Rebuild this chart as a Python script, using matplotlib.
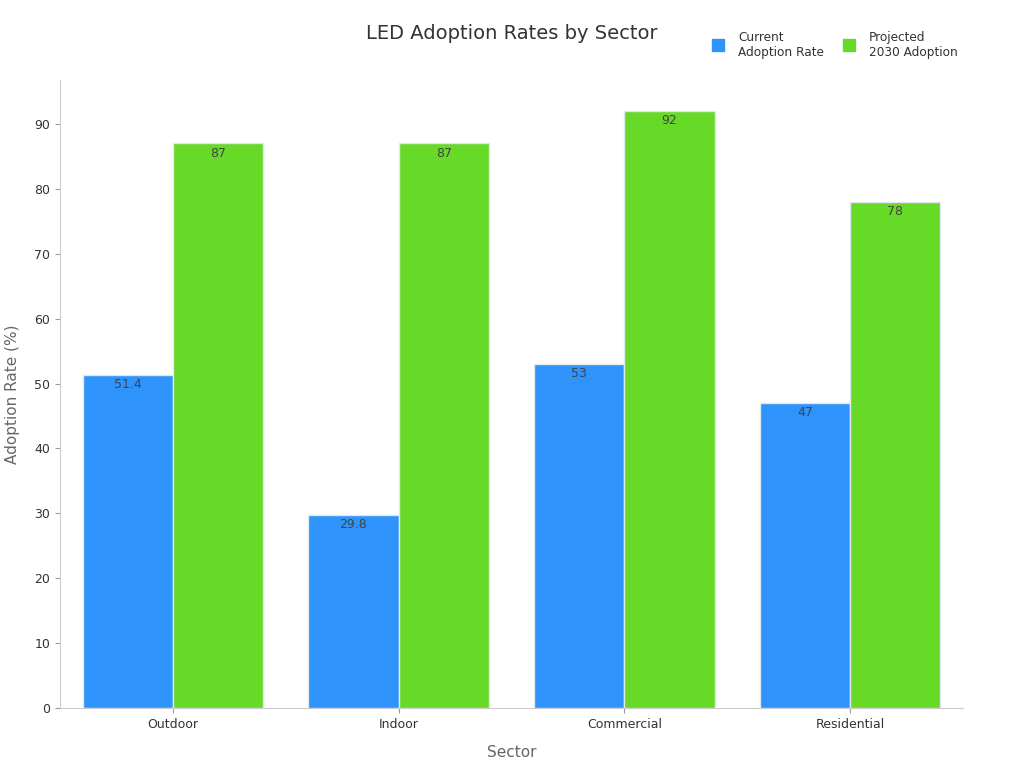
import matplotlib.pyplot as plt
import numpy as np
from matplotlib.lines import Line2D

sectors = ["Outdoor", "Indoor", "Commercial", "Residential"]
current = [51.4, 29.8, 53, 47]
projected = [87, 87, 92, 78]

blue = "#2E93FA"
green = "#66DA26"

plt.rcParams['font.family'] = ['DejaVu Sans']

fig = plt.figure(figsize=(10.24, 7.68), dpi=100)
ax = fig.add_axes([0.0586, 0.078, 0.8818, 0.818])

x = np.arange(len(sectors))
w = 0.4
b1 = ax.bar(x - w / 2, current, w, color=blue, edgecolor="#e0e8f0", linewidth=1)
b2 = ax.bar(x + w / 2, projected, w, color=green, edgecolor="#e0e8f0", linewidth=1)

for bars in (b1, b2):
    for r in bars:
        v = r.get_height()
        ax.text(r.get_x() + r.get_width() / 2, v - 1.5, f"{v:g}",
                ha="center", va="center", fontsize=9, color="#444444")

ax.set_xlim(-0.5, 3.5)
ax.set_ylim(0, 96.8)
ax.set_yticks(range(0, 100, 10))
ax.set_xticks(x)
ax.set_xticklabels(sectors)
ax.tick_params(labelsize=9, colors="#333333")
ax.tick_params(axis="both", color="#999999")
for s in ("top", "right"):
    ax.spines[s].set_visible(False)
for s in ("left", "bottom"):
    ax.spines[s].set_color("#cccccc")

ax.set_xlabel("Sector", fontsize=11, color="#666666", labelpad=10)
ax.set_ylabel("Adoption Rate (%)", fontsize=11, color="#666666", labelpad=10)
fig.text(0.5, 0.957, "LED Adoption Rates by Sector", ha="center", va="center",
         fontsize=14, color="#333333")

handles = [Line2D([], [], marker="s", ls="", color=blue, markersize=8),
           Line2D([], [], marker="s", ls="", color=green, markersize=8)]
fig.legend(handles, ["Current\nAdoption Rate", "Projected\n2030 Adoption"],
           ncol=2, frameon=False, fontsize=8.7, loc="center right",
           bbox_to_anchor=(0.946, 0.942), handletextpad=0.7, columnspacing=1.0,
           labelcolor="#333333")

plt.savefig("out.png")
plt.close(fig)
